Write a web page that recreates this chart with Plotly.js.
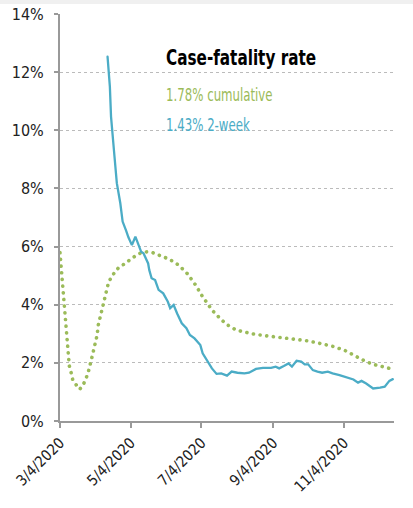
<!DOCTYPE html>
<html><head><meta charset="utf-8">
<script src="https://cdn.plot.ly/plotly-3.0.1.min.js"></script>
<style>html,body{margin:0;padding:0;background:#fff;}#chart{width:413px;height:508px;}
#chart .js-line{stroke-linecap:round;}
#chart .annotation-text{transform-box:fill-box;transform-origin:0 50%;transform:scaleX(0.77);}</style>
</head><body><div id="chart"></div>
<script>
const cumDates = ['2020-03-04','2020-03-05','2020-03-06','2020-03-07','2020-03-08','2020-03-09','2020-03-10','2020-03-11','2020-03-12','2020-03-14','2020-03-15','2020-03-18','2020-03-21','2020-03-24','2020-03-26','2020-03-28','2020-03-31','2020-04-03','2020-04-05','2020-04-06','2020-04-09','2020-04-11','2020-04-13','2020-04-15','2020-04-19','2020-04-23','2020-04-29','2020-05-03','2020-05-08','2020-05-12','2020-05-18','2020-05-23','2020-05-29','2020-06-04','2020-06-10','2020-06-14','2020-06-18','2020-06-23','2020-06-26','2020-06-30','2020-07-03','2020-07-06','2020-07-09','2020-07-13','2020-07-17','2020-07-21','2020-07-25','2020-07-30','2020-08-03','2020-08-09','2020-08-18','2020-08-29','2020-09-10','2020-09-21','2020-10-03','2020-10-14','2020-10-26','2020-11-05','2020-11-13','2020-11-22','2020-11-29','2020-12-08','2020-12-16'];
const cumValues = [5.79,5.3,4.8,4.3,3.8,3.3,2.8,2.3,1.9,1.6,1.41,1.24,1.09,1.24,1.41,1.62,2.1,2.61,2.95,3.3,3.82,4.1,4.39,4.79,5.05,5.25,5.42,5.54,5.68,5.77,5.82,5.79,5.71,5.6,5.48,5.37,5.22,5.02,4.83,4.62,4.39,4.22,4.05,3.82,3.65,3.5,3.34,3.22,3.13,3.07,2.99,2.93,2.88,2.84,2.76,2.67,2.56,2.42,2.24,2.06,1.95,1.87,1.78];

const twoWeekDates = ['2020-04-14','2020-04-16','2020-04-17','2020-04-18','2020-04-20','2020-04-22','2020-04-25','2020-04-27','2020-04-29','2020-04-30','2020-05-02','2020-05-05','2020-05-08','2020-05-10','2020-05-13','2020-05-15','2020-05-18','2020-05-19','2020-05-20','2020-05-22','2020-05-25','2020-05-28','2020-06-01','2020-06-05','2020-06-07','2020-06-10','2020-06-13','2020-06-17','2020-06-21','2020-06-24','2020-06-28','2020-07-03','2020-07-05','2020-07-10','2020-07-13','2020-07-17','2020-07-21','2020-07-26','2020-07-30','2020-08-04','2020-08-10','2020-08-14','2020-08-20','2020-08-26','2020-09-02','2020-09-06','2020-09-09','2020-09-13','2020-09-17','2020-09-20','2020-09-24','2020-09-28','2020-10-01','2020-10-04','2020-10-08','2020-10-12','2020-10-16','2020-10-21','2020-10-25','2020-10-31','2020-11-06','2020-11-12','2020-11-16','2020-11-19','2020-11-23','2020-11-29','2020-12-05','2020-12-09','2020-12-13','2020-12-16'];
const twoWeekValues = [12.53,11.5,10.47,9.9,9.09,8.18,7.49,6.86,6.68,6.55,6.32,6.05,6.34,6.13,5.82,5.77,5.54,5.42,5.19,4.91,4.85,4.51,4.39,4.1,3.88,3.99,3.7,3.36,3.19,2.96,2.84,2.61,2.33,1.98,1.81,1.62,1.64,1.56,1.7,1.66,1.64,1.66,1.79,1.83,1.83,1.87,1.81,1.89,1.98,1.87,2.07,2.04,1.95,1.95,1.75,1.7,1.66,1.7,1.64,1.58,1.5,1.43,1.32,1.38,1.29,1.12,1.15,1.18,1.38,1.44];

const xTickVals = ['2020-03-04','2020-05-04','2020-07-04','2020-09-04','2020-11-04'];
const xTickText = ['3/4/2020','5/4/2020','7/4/2020','9/4/2020','11/4/2020'];
const yTickVals = [0,2,4,6,8,10,12,14];
const yTickText = ['0%','2%','4%','6%','8%','10%','12%','14%'];

const chartTitle = 'Case-fatality rate';
const cumLabel = '1.78% cumulative';
const twoWeekLabel = '1.43% 2-week';

const GREEN = '#9bbb59', BLUE = '#4bacc6';
const FONT = '"DejaVu Sans Condensed", "Liberation Sans Narrow", "Arial Narrow", sans-serif';

const traces = [
  {x: cumDates, y: cumValues, type: 'scatter', mode: 'lines', name: 'cumulative',
   line: {color: GREEN, width: 3.6, dash: '0.1px,6.6px'}, hoverinfo: 'skip'},
  {x: twoWeekDates, y: twoWeekValues, type: 'scatter', mode: 'lines', name: '2-week',
   line: {color: BLUE, width: 2.3}, hoverinfo: 'skip'}
];

const layout = {
  width: 413, height: 508,
  margin: {l: 60, r: 19, t: 14, b: 87},
  paper_bgcolor: '#fff', plot_bgcolor: '#fff',
  showlegend: false,
  font: {family: FONT, size: 15, color: '#222'},
  xaxis: {
    type: 'date', range: ['2020-03-04', '2020-12-17'],
    tickmode: 'array', tickvals: xTickVals, ticktext: xTickText,
    tickangle: -45, ticks: 'outside', ticklen: 5, tickwidth: 2, tickcolor: '#999',
    showline: true, linecolor: '#999', linewidth: 2,
    showgrid: false, zeroline: false,
    tickfont: {family: FONT, size: 15, color: '#222'}
  },
  yaxis: {
    range: [0, 14], tickmode: 'array', tickvals: yTickVals, ticktext: yTickText,
    ticks: 'outside', ticklen: 4, tickwidth: 2, tickcolor: '#999',
    ticklabelstandoff: 7,
    showline: true, linecolor: '#999', linewidth: 2,
    showgrid: true, gridcolor: '#bbb', gridwidth: 1, griddash: 'dot',
    zeroline: false,
    tickfont: {family: FONT, size: 16, color: '#222'}
  },
  annotations: [
    {xref: 'paper', yref: 'paper', x: 0.31, y: 0.894, xanchor: 'left', yanchor: 'middle',
     text: '<b>' + chartTitle + '</b>', showarrow: false,
     font: {family: FONT, size: 22, color: '#000'}},
    {xref: 'paper', yref: 'paper', x: 0.31, y: 0.801, xanchor: 'left', yanchor: 'middle',
     text: cumLabel, showarrow: false, font: {family: FONT, size: 17, color: GREEN}},
    {xref: 'paper', yref: 'paper', x: 0.31, y: 0.727, xanchor: 'left', yanchor: 'middle',
     text: twoWeekLabel, showarrow: false, font: {family: FONT, size: 17, color: BLUE}}
  ],
  shapes: [
    {type: 'rect', xref: 'paper', yref: 'paper', x0: -0.2, x1: 1.1, y0: 1.0245, y1: 1.05,
     fillcolor: '#f0f0f0', line: {width: 0}, layer: 'below'}
  ]
};

Plotly.newPlot('chart', traces, layout, {displayModeBar: false, staticPlot: true});
</script>
</body></html>
